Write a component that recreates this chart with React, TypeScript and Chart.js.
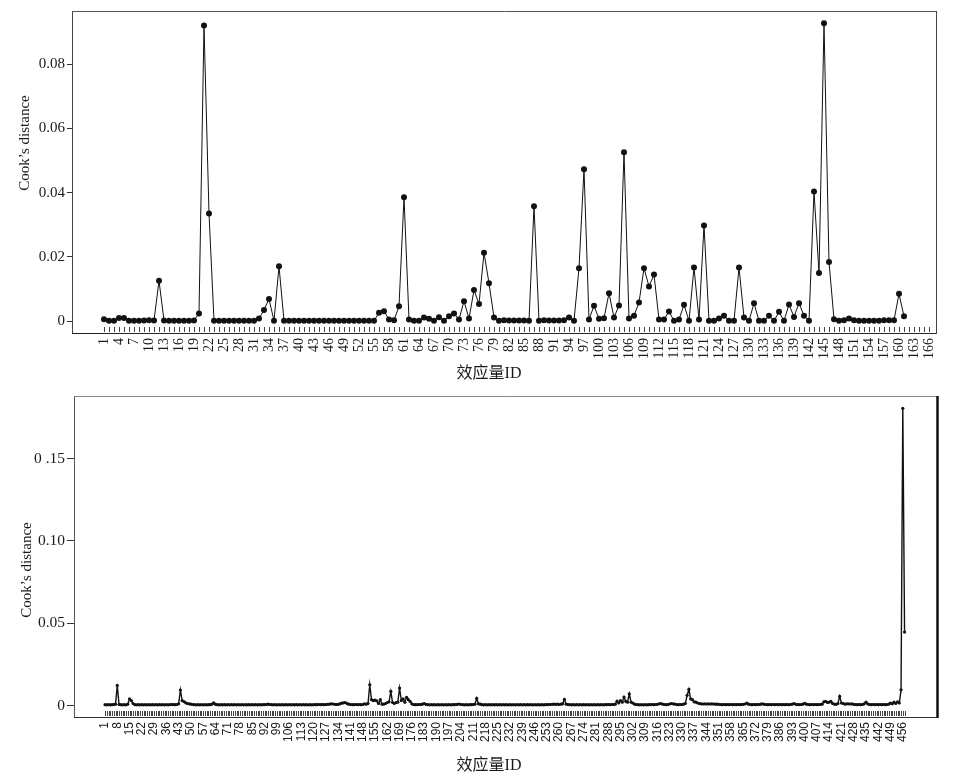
import React, { useEffect, useRef } from "react";
import { Chart, registerables } from "chart.js";

Chart.register(...registerables);

// ---------- Top panel data (effect-size ID 1..161) ----------
const topValues: number[] = [
  0.0006, 0.0001, 0.0001, 0.0010, 0.0010, 0.0001, 0.0001, 0.0001, 0.0002, 0.0003,
  0.0002, 0.0126, 0.0002, 0.0001, 0.0001, 0.0001, 0.0001, 0.0001, 0.0002, 0.0024,
  0.0921, 0.0335, 0.0001, 0.0001, 0.0001, 0.0001, 0.0001, 0.0001, 0.0001, 0.0001,
  0.0001, 0.0008, 0.0035, 0.0069, 0.0001, 0.0171, 0.0001, 0.0001, 0.0001, 0.0001,
  0.0001, 0.0001, 0.0001, 0.0001, 0.0001, 0.0001, 0.0001, 0.0001, 0.0001, 0.0001,
  0.0001, 0.0001, 0.0001, 0.0001, 0.0001, 0.0026, 0.0031, 0.0005, 0.0003, 0.0046,
  0.0386, 0.0005, 0.0001, 0.0001, 0.0011, 0.0007, 0.0001, 0.0012, 0.0001, 0.0015,
  0.0024, 0.0005, 0.0062, 0.0008, 0.0097, 0.0053, 0.0213, 0.0118, 0.0011, 0.0001,
  0.0003, 0.0002, 0.0002, 0.0002, 0.0002, 0.0001, 0.0358, 0.0001, 0.0003, 0.0002,
  0.0002, 0.0002, 0.0003, 0.0011, 0.0001, 0.0165, 0.0473, 0.0005, 0.0048, 0.0007,
  0.0009, 0.0087, 0.0011, 0.0049, 0.0526, 0.0008, 0.0017, 0.0058, 0.0165, 0.0108,
  0.0145, 0.0005, 0.0005, 0.0030, 0.0001, 0.0005, 0.0051, 0.0001, 0.0167, 0.0005,
  0.0298, 0.0001, 0.0001, 0.0008, 0.0017, 0.0001, 0.0001, 0.0167, 0.0011, 0.0001,
  0.0056, 0.0001, 0.0001, 0.0017, 0.0001, 0.0029, 0.0001, 0.0052, 0.0013, 0.0056,
  0.0017, 0.0001, 0.0404, 0.0150, 0.0928, 0.0184, 0.0006, 0.0001, 0.0003, 0.0008,
  0.0003, 0.0001, 0.0001, 0.0001, 0.0001, 0.0001, 0.0003, 0.0003, 0.0003, 0.0085,
  0.0015,
];

const topTickLabels: number[] = [
  1, 4, 7, 10, 13, 16, 19, 22, 25, 28, 31, 34, 37, 40, 43, 46, 49, 52, 55, 58,
  61, 64, 67, 70, 73, 76, 79, 82, 85, 88, 91, 94, 97, 100, 103, 106, 109, 112,
  115, 118, 121, 124, 127, 130, 133, 136, 139, 142, 145, 148, 151, 154, 157, 160,
  163, 166,
];
const topYTicks: number[] = [0, 0.02, 0.04, 0.06, 0.08];
const topYLabels: string[] = ["0", "0.02", "0.04", "0.06", "0.08"];

// ---------- Bottom panel data (effect-size ID 1..457) ----------
const bottomValues: number[] = [
  // 1-20
  0.0005, 0.0004, 0.0005, 0.0004, 0.0005, 0.0006, 0.0008, 0.0122, 0.0006, 0.0005,
  0.0004, 0.0005, 0.0004, 0.0008, 0.0040, 0.0030, 0.0012, 0.0005, 0.0004, 0.0005,
  // 21-40
  0.0004, 0.0005, 0.0004, 0.0005, 0.0004, 0.0005, 0.0004, 0.0005, 0.0004, 0.0005,
  0.0004, 0.0005, 0.0004, 0.0005, 0.0004, 0.0005, 0.0004, 0.0005, 0.0006, 0.0005,
  // 41-60
  0.0005, 0.0006, 0.0010, 0.0094, 0.0030, 0.0024, 0.0016, 0.0012, 0.0010, 0.0008,
  0.0006, 0.0005, 0.0004, 0.0005, 0.0004, 0.0005, 0.0004, 0.0005, 0.0004, 0.0005,
  // 61-80
  0.0005, 0.0008, 0.0016, 0.0007, 0.0005, 0.0004, 0.0005, 0.0004, 0.0005, 0.0004,
  0.0005, 0.0004, 0.0005, 0.0004, 0.0005, 0.0004, 0.0005, 0.0004, 0.0005, 0.0004,
  // 81-100
  0.0005, 0.0004, 0.0005, 0.0004, 0.0005, 0.0004, 0.0005, 0.0004, 0.0005, 0.0004,
  0.0005, 0.0005, 0.0006, 0.0008, 0.0006, 0.0005, 0.0004, 0.0005, 0.0004, 0.0005,
  // 101-120
  0.0004, 0.0005, 0.0004, 0.0005, 0.0004, 0.0005, 0.0004, 0.0005, 0.0004, 0.0005,
  0.0004, 0.0005, 0.0004, 0.0005, 0.0004, 0.0005, 0.0004, 0.0005, 0.0004, 0.0005,
  // 121-140
  0.0005, 0.0005, 0.0006, 0.0005, 0.0006, 0.0005, 0.0006, 0.0007, 0.0008, 0.0010,
  0.0009, 0.0007, 0.0006, 0.0007, 0.0010, 0.0014, 0.0016, 0.0018, 0.0012, 0.0008,
  // 141-160
  0.0006, 0.0005, 0.0005, 0.0006, 0.0005, 0.0006, 0.0005, 0.0006, 0.0010, 0.0008,
  0.0012, 0.0126, 0.0035, 0.0030, 0.0032, 0.0028, 0.0012, 0.0035, 0.0008, 0.0008,
  // 161-180
  0.0012, 0.0018, 0.0022, 0.0086, 0.0018, 0.0012, 0.0018, 0.0020, 0.0106, 0.0030,
  0.0040, 0.0020, 0.0050, 0.0035, 0.0025, 0.0010, 0.0006, 0.0005, 0.0005, 0.0006,
  // 181-200
  0.0006, 0.0008, 0.0012, 0.0007, 0.0005, 0.0004, 0.0005, 0.0004, 0.0005, 0.0004,
  0.0005, 0.0004, 0.0005, 0.0004, 0.0005, 0.0004, 0.0005, 0.0004, 0.0005, 0.0005,
  // 201-220
  0.0006, 0.0007, 0.0009, 0.0006, 0.0005, 0.0004, 0.0005, 0.0004, 0.0005, 0.0005,
  0.0006, 0.0008, 0.0044, 0.0010, 0.0008, 0.0005, 0.0004, 0.0005, 0.0004, 0.0005,
  // 221-240
  0.0004, 0.0005, 0.0004, 0.0005, 0.0004, 0.0005, 0.0004, 0.0005, 0.0004, 0.0005,
  0.0004, 0.0005, 0.0004, 0.0005, 0.0004, 0.0005, 0.0004, 0.0005, 0.0004, 0.0005,
  // 241-260
  0.0004, 0.0005, 0.0004, 0.0005, 0.0004, 0.0005, 0.0004, 0.0005, 0.0004, 0.0005,
  0.0004, 0.0005, 0.0005, 0.0006, 0.0006, 0.0007, 0.0008, 0.0007, 0.0008, 0.0006,
  // 261-280
  0.0008, 0.0010, 0.0037, 0.0008, 0.0006, 0.0005, 0.0004, 0.0005, 0.0004, 0.0005,
  0.0004, 0.0005, 0.0004, 0.0005, 0.0004, 0.0005, 0.0004, 0.0005, 0.0004, 0.0005,
  // 281-300
  0.0004, 0.0005, 0.0004, 0.0005, 0.0004, 0.0005, 0.0005, 0.0006, 0.0005, 0.0006,
  0.0006, 0.0008, 0.0027, 0.0015, 0.0030, 0.0020, 0.0051, 0.0025, 0.0020, 0.0070,
  // 301-320
  0.0020, 0.0015, 0.0008, 0.0006, 0.0005, 0.0004, 0.0005, 0.0004, 0.0005, 0.0004,
  0.0005, 0.0005, 0.0006, 0.0005, 0.0006, 0.0007, 0.0010, 0.0012, 0.0008, 0.0006,
  // 321-340
  0.0005, 0.0006, 0.0009, 0.0012, 0.0010, 0.0008, 0.0006, 0.0005, 0.0006, 0.0006,
  0.0008, 0.0012, 0.0062, 0.0098, 0.0040, 0.0035, 0.0022, 0.0020, 0.0015, 0.0012,
  // 341-360
  0.0010, 0.0009, 0.0010, 0.0009, 0.0010, 0.0009, 0.0010, 0.0009, 0.0008, 0.0008,
  0.0007, 0.0006, 0.0005, 0.0006, 0.0005, 0.0006, 0.0005, 0.0006, 0.0005, 0.0006,
  // 361-380
  0.0005, 0.0006, 0.0005, 0.0006, 0.0007, 0.0009, 0.0014, 0.0008, 0.0006, 0.0005,
  0.0006, 0.0005, 0.0006, 0.0006, 0.0008, 0.0010, 0.0007, 0.0006, 0.0005, 0.0006,
  // 381-400
  0.0005, 0.0006, 0.0005, 0.0006, 0.0005, 0.0006, 0.0005, 0.0006, 0.0005, 0.0006,
  0.0005, 0.0006, 0.0008, 0.0012, 0.0007, 0.0006, 0.0005, 0.0006, 0.0008, 0.0013,
  // 401-420
  0.0008, 0.0006, 0.0005, 0.0006, 0.0005, 0.0006, 0.0005, 0.0006, 0.0006, 0.0008,
  0.0022, 0.0025, 0.0018, 0.0020, 0.0025, 0.0012, 0.0008, 0.0007, 0.0012, 0.0055,
  // 421-440
  0.0015, 0.0012, 0.0008, 0.0010, 0.0010, 0.0009, 0.0010, 0.0007, 0.0006, 0.0005,
  0.0006, 0.0005, 0.0006, 0.0010, 0.0021, 0.0010, 0.0006, 0.0005, 0.0006, 0.0005,
  // 441-457
  0.0006, 0.0005, 0.0006, 0.0005, 0.0006, 0.0005, 0.0006, 0.0008, 0.0015, 0.0010,
  0.0020, 0.0012, 0.0022, 0.0015, 0.0095, 0.1805, 0.0446,
];

const bottomTickLabels: number[] = [
  1, 8, 15, 22, 29, 36, 43, 50, 57, 64, 71, 78, 85, 92, 99, 106, 113, 120, 127,
  134, 141, 148, 155, 162, 169, 176, 183, 190, 197, 204, 211, 218, 225, 232, 239,
  246, 253, 260, 267, 274, 281, 288, 295, 302, 309, 316, 323, 330, 337, 344, 351,
  358, 365, 372, 379, 386, 393, 400, 407, 414, 421, 428, 435, 442, 449, 456,
];
const bottomYTicks: number[] = [0, 0.05, 0.1, 0.15];
const bottomYLabels: string[] = ["0", "0.05", "0.10", "0 .15"];

const Y_TITLE = "Cook\u2019s distance";
const X_TITLE = "效应量ID";

type PanelCfg = {
  values: number[];
  xTicks: number[];
  yTicks: number[];
  yLabels: string[];
  xMin: number;
  xMax: number;
  yMin: number;
  yMax: number;
  minorTickMax: number;
  width: number;
  height: number;
  padTop: number;
  padRight: number;
  yAxisWidth: number;
  xAxisHeight: number;
  xFont: { family: string; size: number };
  yFont: { family: string; size: number };
  yTickLen: number;
  pointRadius: number;
  lineWidth: number;
  xTitlePos: [number, number];
  yTitlePos: [number, number];
  box: { top: string; left: string; bottom: string; right: string; rightWidth: number };
};

function buildChart(canvas: HTMLCanvasElement, c: PanelCfg) {
  const points = c.values.map((v, i) => ({ x: i + 1, y: v }));
  const decor = {
    id: "decor",
    afterDraw(chart: any) {
      const { ctx, chartArea: a, scales } = chart;
      const xs = scales.x;
      ctx.save();
      // minor inward tick marks at every ID
      ctx.strokeStyle = "#444";
      ctx.lineWidth = 1;
      ctx.beginPath();
      for (let i = 1; i <= c.minorTickMax; i++) {
        const px = Math.round(xs.getPixelForValue(i)) + 0.5;
        ctx.moveTo(px, a.bottom - 1);
        ctx.lineTo(px, a.bottom - 6);
      }
      ctx.stroke();
      // frame
      const seg = (x1: number, y1: number, x2: number, y2: number, col: string, w: number) => {
        ctx.strokeStyle = col;
        ctx.lineWidth = w;
        ctx.beginPath();
        ctx.moveTo(x1, y1);
        ctx.lineTo(x2, y2);
        ctx.stroke();
      };
      const L = Math.round(a.left) + 0.5;
      const R = Math.round(a.right) + 0.5;
      const T = Math.round(a.top) + 0.5;
      const B = Math.round(a.bottom) + 0.5;
      seg(L - 0.5, T, R, T, c.box.top, 1);
      seg(L, T, L, B, c.box.left, 1);
      seg(L - 0.5, B, R, B, c.box.bottom, 1);
      seg(R, T - 0.5, R, B + 0.5, c.box.right, c.box.rightWidth);
      // axis titles
      ctx.fillStyle = "#1a1a1a";
      ctx.textAlign = "center";
      ctx.textBaseline = "middle";
      ctx.font = '16px "Liberation Serif", "Noto Sans CJK SC", serif';
      ctx.fillText(X_TITLE, c.xTitlePos[0], c.xTitlePos[1]);
      ctx.translate(c.yTitlePos[0], c.yTitlePos[1]);
      ctx.rotate(-Math.PI / 2);
      ctx.font = '15px "Liberation Serif", serif';
      ctx.fillText(Y_TITLE, 0, 0);
      ctx.restore();
    },
  };

  return new Chart(canvas, {
    type: "line",
    data: {
      datasets: [
        {
          data: points,
          borderColor: "#111",
          backgroundColor: "#111",
          borderWidth: c.lineWidth,
          pointRadius: c.pointRadius,
          pointBorderWidth: 0,
          pointBackgroundColor: "#111",
          tension: 0,
        },
      ],
    },
    options: {
      animation: false,
      responsive: false,
      devicePixelRatio: 1,
      parsing: false as any,
      layout: { padding: { top: c.padTop, right: c.padRight, left: 0, bottom: 0 } },
      plugins: { legend: { display: false }, tooltip: { enabled: false }, title: { display: false } },
      scales: {
        x: {
          type: "linear",
          min: c.xMin,
          max: c.xMax,
          border: { display: false },
          grid: { display: false, drawTicks: false },
          afterBuildTicks: (s: any) => {
            s.ticks = c.xTicks.map((v) => ({ value: v }));
          },
          afterFit: (s: any) => {
            s.height = c.xAxisHeight;
          },
          ticks: {
            autoSkip: false,
            minRotation: 90,
            maxRotation: 90,
            padding: 5,
            color: "#1a1a1a",
            font: c.xFont,
            callback: (v: any) => String(v),
          },
        },
        y: {
          type: "linear",
          min: c.yMin,
          max: c.yMax,
          border: { display: false },
          grid: { drawOnChartArea: false, drawTicks: true, tickLength: c.yTickLen, color: "#333" },
          afterBuildTicks: (s: any) => {
            s.ticks = c.yTicks.map((v) => ({ value: v }));
          },
          afterFit: (s: any) => {
            s.width = c.yAxisWidth;
          },
          ticks: {
            padding: 2,
            color: "#1a1a1a",
            font: c.yFont,
            callback: (v: any) => {
              const k = c.yTicks.findIndex((t) => Math.abs(t - v) < 1e-9);
              return k >= 0 ? c.yLabels[k] : "";
            },
          },
        },
      },
    },
    plugins: [decor],
  } as any);
}

const topCfg: PanelCfg = {
  values: topValues,
  xTicks: topTickLabels,
  yTicks: topYTicks,
  yLabels: topYLabels,
  xMin: -5.4,
  xMax: 167.4,
  yMin: -0.0037,
  yMax: 0.0966,
  minorTickMax: 166,
  width: 959,
  height: 385,
  padTop: 7,
  padRight: 23,
  yAxisWidth: 72,
  xAxisHeight: 52,
  xFont: { family: '"Liberation Serif", serif', size: 14 },
  yFont: { family: '"Liberation Serif", serif', size: 15 },
  yTickLen: 5,
  pointRadius: 3,
  lineWidth: 1,
  xTitlePos: [489, 374],
  yTitlePos: [25, 143],
  box: { top: "#555", left: "#444", bottom: "#222", right: "#444", rightWidth: 1 },
};

const bottomCfg: PanelCfg = {
  values: bottomValues,
  xTicks: bottomTickLabels,
  yTicks: bottomYTicks,
  yLabels: bottomYLabels,
  xMin: -16.68,
  xMax: 475.5,
  yMin: -0.007,
  yMax: 0.1878,
  minorTickMax: 457,
  width: 959,
  height: 396,
  padTop: 7,
  padRight: 22,
  yAxisWidth: 74,
  xAxisHeight: 64,
  xFont: { family: '"Liberation Sans", sans-serif', size: 12 },
  yFont: { family: '"Liberation Serif", serif', size: 15.5 },
  yTickLen: 7,
  pointRadius: 1.6,
  lineWidth: 1.4,
  xTitlePos: [489, 381],
  yTitlePos: [27, 185],
  box: { top: "#888", left: "#555", bottom: "#333", right: "#111", rightWidth: 2.5 },
};

function Panel({ cfg, top }: { cfg: PanelCfg; top: number }) {
  const ref = useRef<HTMLCanvasElement | null>(null);
  useEffect(() => {
    if (!ref.current) return;
    const chart = buildChart(ref.current, cfg);
    return () => chart.destroy();
  }, [cfg]);
  return (
    <canvas
      ref={ref}
      width={cfg.width}
      height={cfg.height}
      style={{ position: "absolute", left: 0, top, width: cfg.width, height: cfg.height }}
    />
  );
}

export default function App() {
  return (
    <div
      style={{
        position: "fixed",
        left: 0,
        top: 0,
        width: 959,
        height: 781,
        background: "#fff",
        overflow: "hidden",
      }}
    >
      <Panel cfg={topCfg} top={0} />
      <Panel cfg={bottomCfg} top={385} />
    </div>
  );
}
